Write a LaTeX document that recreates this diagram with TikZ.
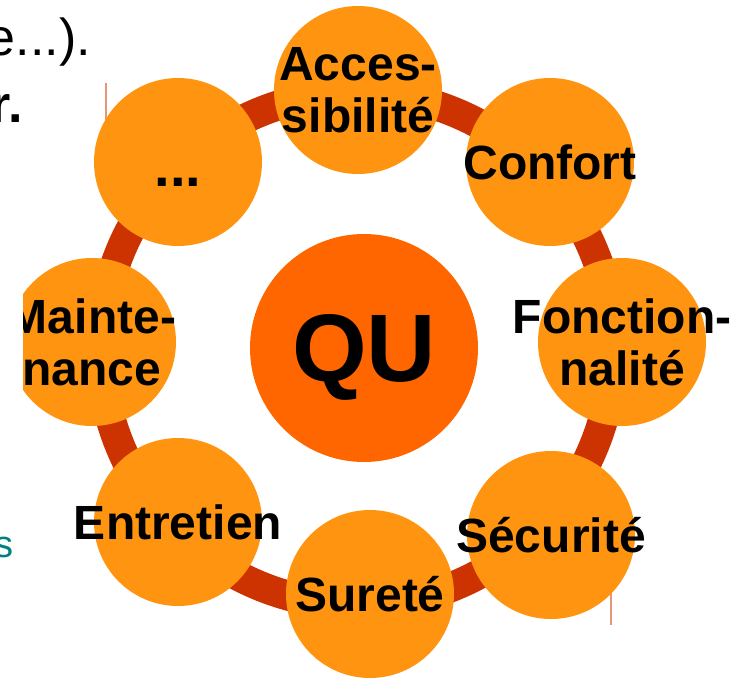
\documentclass[tikz,border=0pt]{standalone}
\usepackage{fontspec}
\setmainfont{Liberation Sans}
\usepackage{xcolor}
\usetikzlibrary{calc, positioning}
\definecolor{PetalOrange}{HTML}{FF9410}
\definecolor{CoreOrange}{HTML}{FF6600}
\definecolor{RingRed}{HTML}{CC3300}
\definecolor{FrameSalmon}{HTML}{E8967A}
\definecolor{SlideTeal}{HTML}{008080}
\tikzset{%
  petal/.style={%
    circle,
    fill=PetalOrange,
    minimum size=168pt,
    inner sep=0pt%
  },
  petallabel/.style={%
    align=center,
    inner sep=0pt,
    font={\fontsize{48}{52}\selectfont\bfseries}%
  },
  core/.style={%
    circle,
    fill=CoreOrange,
    minimum size=228pt,
    inner sep=0pt%
  },
  corelabel/.style={%
    inner sep=0pt,
    font={\fontsize{96}{106}\selectfont\bfseries}%
  },
  ring/.style={draw=RingRed, line width=30pt},
  slidetext/.style={%
    anchor=base east,
    inner sep=0pt,
    font={\fontsize{52}{60}\selectfont}%
  },
  frameline/.style={draw=FrameSalmon, line width=1.2pt}
}

\begin{document}
\begin{tikzpicture}[x=1pt, y=-1pt]
    \useasboundingbox (0,0) rectangle (747,678);

    % bits of the slide behind the picture
    \node [slidetext] (SlideLineA) at (91,55) {e...).};
    \node [slidetext, font={\fontsize{52}{60}\selectfont\bfseries}] (SlideLineB) at (23,122) {r.};
    \node [slidetext, font={\fontsize{38}{44}\selectfont}, text=SlideTeal] (SlideLineC) at (14,557) {s};
    \draw [frameline] (106,83) -- (106,200);
    \draw [frameline] (611,520) -- (611,625);

    \begin{scope}
      \clip (23,0) rectangle (747,678);
      \draw [ring] (357,349) circle [radius=256pt];

      \node [petal] (Access) at (358,90) {};
      \node [petal] (Confort) at (550,162) {};
      \node [petal] (Fonction) at (622,342) {};
      \node [petal] (Securite) at (551,535) {};
      \node [petal] (Surete) at (370,594) {};
      \node [petal] (Entretien) at (178,522) {};
      \node [petal] (Maint) at (92,342) {};
      \node [petal] (Other) at (178,162) {};
      \node [core] (Core) at (364,348) {};

      \node [petallabel] (AccessText) at (Access) {Acces-\\sibilité};
      \node [petallabel] (ConfortText) at (Confort) {Confort};
      \node [petallabel] (FonctionText) at (Fonction) {Fonction-\\nalité};
      \node [petallabel] (SecuriteText) at (Securite) {Sécurité};
      \node [petallabel] (SureteText) at (Surete) {Sureté};
      \node [petallabel] (EntretienText) at (Entretien) {Entretien};
      \node [petallabel] (MaintText) at (Maint) {Mainte-\\nance};
      \node [petallabel, anchor=base, font={\fontsize{56}{60}\selectfont\bfseries}]
        (OtherText) at ($(Other)+(0,24)$) {...};
      \node [corelabel] (CoreText) at ($(Core)+(0,9)$) {QU};
    \end{scope}
\end{tikzpicture}
\end{document}
